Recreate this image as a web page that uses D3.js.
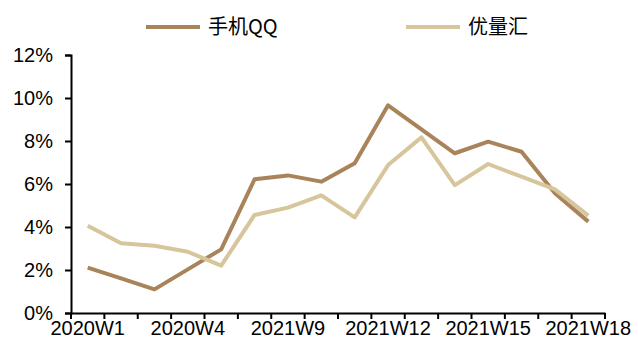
<!DOCTYPE html>
<html><head><meta charset="utf-8">
<script src="https://cdn.jsdelivr.net/npm/d3@7"></script>
<style>html,body{margin:0;padding:0;background:#fff;}svg{display:block;}</style>
</head><body>
<svg id="chart" width="638" height="349"></svg>
<script>
const categories = ["2020W1","2020W2","2020W3","2020W4","2021W7","2021W8","2021W9","2021W10","2021W11","2021W12","2021W13","2021W14","2021W15","2021W16","2021W17","2021W18"];
const tickLabels = ["2020W1","2020W4","2021W9","2021W12","2021W15","2021W18"];
const seriesNames = ["手机QQ","优量汇"];
const qqValues = [2.11,1.61,1.10,2.03,2.96,6.22,6.40,6.11,6.96,9.66,8.54,7.43,7.97,7.50,5.57,4.25];
const ylhValues = [4.06,3.24,3.13,2.85,2.20,4.56,4.90,5.47,4.45,6.88,8.17,5.95,6.93,6.34,5.75,4.53];
const yTicks = [0,2,4,6,8,10,12];
const colors = ["#A9835A","#D7C59C"];

const svg = d3.select("#chart");
const margin = {left:71, right:33, top:55, bottom:36};
const W = 638, H = 349;
const x = d3.scaleBand().domain(categories).range([margin.left, W - margin.right]);
const y = d3.scaleLinear().domain([0,12]).range([H - margin.bottom, margin.top]);
const font = "'Liberation Sans', Arial, sans-serif";

// Y axis
const yAxis = svg.append("g").attr("transform",`translate(${margin.left},0)`)
  .call(d3.axisLeft(y).tickValues(yTicks).tickFormat(d => d + "%").tickSizeOuter(0).tickSize(6).tickPadding(12));
yAxis.select(".domain").attr("stroke","#000").attr("stroke-width",2);
yAxis.selectAll(".tick line").attr("stroke","#000").attr("stroke-width",2);
yAxis.selectAll(".tick text").attr("font-family",font).attr("font-size",20).attr("fill","#000");

// X axis
const xAxis = svg.append("g").attr("transform",`translate(0,${y(0)})`)
  .call(d3.axisBottom(x).tickValues(categories).tickFormat(d => tickLabels.includes(d) ? d : "").tickSize(0).tickSizeOuter(0).tickPadding(8));
xAxis.select(".domain").attr("stroke","#000").attr("stroke-width",2);
xAxis.selectAll(".tick text").attr("font-family",font).attr("font-size",20).attr("fill","#000").attr("dy","0.71em");
// boundary tick marks between categories
const bounds = categories.map(c => x(c)).concat([x(categories[categories.length-1]) + x.bandwidth()]);
svg.append("g").selectAll("line").data(bounds).join("line")
  .attr("x1", d => d).attr("x2", d => d)
  .attr("y1", y(0)).attr("y2", y(0) + 6)
  .attr("stroke","#000").attr("stroke-width",2);

// Lines
const line = d3.line().x((d,i) => x(categories[i]) + x.bandwidth()/2).y(d => y(d));
[ylhValues, qqValues].forEach((vals, k) => {});
svg.append("path").datum(qqValues).attr("d", line).attr("fill","none")
  .attr("stroke", colors[0]).attr("stroke-width",4).attr("stroke-linejoin","round");
svg.append("path").datum(ylhValues).attr("d", line).attr("fill","none")
  .attr("stroke", colors[1]).attr("stroke-width",4).attr("stroke-linejoin","round");

// Legend
const legendX = [146, 406];
const leg = svg.append("g");
seriesNames.forEach((name, i) => {
  leg.append("line").attr("x1", legendX[i]).attr("x2", legendX[i] + 54)
    .attr("y1", 27).attr("y2", 27).attr("stroke", colors[i]).attr("stroke-width",4);
  leg.append("text").attr("x", legendX[i] + 62).attr("y", 27).attr("dy","0.35em")
    .attr("font-family","'Noto Sans CJK SC', 'Liberation Sans', sans-serif").attr("font-size",20)
    .attr("fill","#000").text(name);
});
</script>
</body></html>
